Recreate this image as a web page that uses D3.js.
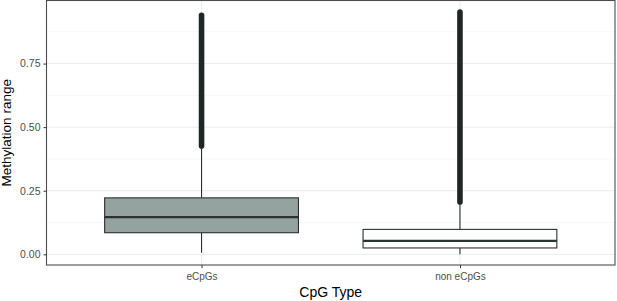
<!DOCTYPE html>
<html>
<head>
<meta charset="utf-8">
<script src="https://cdn.jsdelivr.net/npm/d3@7"></script>
<style>
  body { margin: 0; background: #fff; }
  svg { display: block; font-family: "Liberation Sans", Arial, sans-serif; }
</style>
</head>
<body>
<div id="chart"></div>
<script>
const categories = ['eCpGs', 'non eCpGs'];
// [lower whisker, q1, median, q3, upper whisker]
const boxStats = [
  [0.006, 0.085, 0.146, 0.222, 0.42],
  [0.0, 0.025, 0.053, 0.098, 0.20]
];
// outliers are so dense they form a solid column: [lowest, highest]
const outlierExtent = [
  [0.42, 0.946],
  [0.20, 0.958]
];
const boxFill = ['#95a3a0', '#ffffff'];
const yTicks = [0, 0.25, 0.5, 0.75];
const yMinorTicks = [0.125, 0.375, 0.625, 0.875];

const W = 617, H = 301;
const margin = {top: 0.5, right: 2, bottom: 36, left: 46.5};
const width = W - margin.left - margin.right;
const height = H - margin.top - margin.bottom;

const svg = d3.select('#chart').append('svg')
  .attr('width', W).attr('height', H);
const g = svg.append('g')
  .attr('transform', `translate(${margin.left},${margin.top})`);

// ggplot-like expansion
const y = d3.scaleLinear().domain([-0.042, 0.998]).range([height, 0]);
// centres like a discrete scale with 0.6 expansion
const unit = width / 2.2;
const cx = c => (categories.indexOf(c) + 0.6) * unit;
const boxW = 0.75 * unit;

// grid
g.selectAll('.minor').data(yMinorTicks).enter().append('line')
  .attr('x1', 0).attr('x2', width)
  .attr('y1', d => y(d)).attr('y2', d => y(d))
  .attr('stroke', '#f2f2f2').attr('stroke-width', 0.6);
g.selectAll('.major').data(yTicks).enter().append('line')
  .attr('x1', 0).attr('x2', width)
  .attr('y1', d => y(d)).attr('y2', d => y(d))
  .attr('stroke', '#ebebeb').attr('stroke-width', 1);
g.selectAll('.vmajor').data(categories).enter().append('line')
  .attr('x1', d => cx(d)).attr('x2', d => cx(d))
  .attr('y1', 0).attr('y2', height)
  .attr('stroke', '#ebebeb').attr('stroke-width', 1);

// boxes
categories.forEach((c, i) => {
  const s = boxStats[i];
  const xc = cx(c);
  const stroke = '#2b3130';
  g.append('line')
    .attr('x1', xc).attr('x2', xc)
    .attr('y1', y(s[0])).attr('y2', y(s[1]))
    .attr('stroke', stroke).attr('stroke-width', 1.1);
  g.append('line')
    .attr('x1', xc).attr('x2', xc)
    .attr('y1', y(s[3])).attr('y2', y(s[4]))
    .attr('stroke', stroke).attr('stroke-width', 1.1);
  g.append('rect')
    .attr('x', xc - boxW / 2).attr('width', boxW)
    .attr('y', y(s[3])).attr('height', y(s[1]) - y(s[3]))
    .attr('fill', boxFill[i]).attr('stroke', stroke).attr('stroke-width', 1.1);
  g.append('line')
    .attr('x1', xc - boxW / 2).attr('x2', xc + boxW / 2)
    .attr('y1', y(s[2])).attr('y2', y(s[2]))
    .attr('stroke', stroke).attr('stroke-width', 2.3);
  const o = outlierExtent[i];
  g.append('line')
    .attr('x1', xc).attr('x2', xc)
    .attr('y1', y(o[0]) - 1.5).attr('y2', y(o[1]) + 1.5)
    .attr('stroke', '#1f2625').attr('stroke-width', 5.6)
    .attr('stroke-linecap', 'round');
});

// border
g.append('rect')
  .attr('x', 0).attr('y', 0).attr('width', width).attr('height', height)
  .attr('fill', 'none').attr('stroke', '#4d4d4d').attr('stroke-width', 1.1);

// axes
const yAxis = g.append('g')
  .call(d3.axisLeft(y).tickValues(yTicks).tickFormat(d3.format('.2f')).tickSize(3).tickPadding(3));
const xAxis = g.append('g')
  .attr('transform', `translate(0,${height})`)
  .call(d3.axisBottom(d3.scaleOrdinal().domain(categories).range(categories.map(cx))).tickSize(3).tickPadding(5));
[yAxis, xAxis].forEach(a => {
  a.select('.domain').remove();
  a.selectAll('.tick line').attr('stroke', '#333').attr('stroke-width', 1);
  a.selectAll('.tick text').attr('fill', '#4d4d4d');
});
yAxis.selectAll('.tick text').style('font-size', '10.5px');
xAxis.selectAll('.tick text').style('font-size', '10px');

svg.append('text')
  .attr('x', margin.left + width / 2).attr('y', 297)
  .attr('text-anchor', 'middle')
  .style('font-size', '14px').attr('fill', '#000')
  .text('CpG Type');
svg.append('text')
  .attr('transform', `translate(11,${margin.top + height / 2}) rotate(-90)`)
  .attr('text-anchor', 'middle')
  .style('font-size', '13.5px').attr('fill', '#000')
  .text('Methylation range');
</script>
</body>
</html>
